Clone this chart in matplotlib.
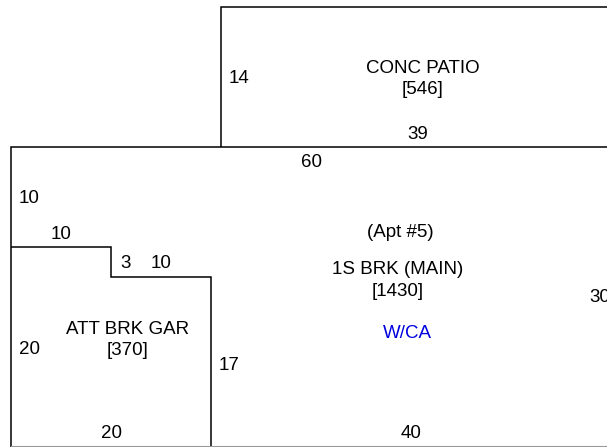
import matplotlib
matplotlib.use("Agg")
import matplotlib.pyplot as plt

# outlines in feet, origin at top left corner of the main building
main_x = [60, 0, 0]
main_y = [0, 0, 30]
base_x = [0, 60]
base_y = [29.9, 29.9]
patio_x = [21, 21, 60]
patio_y = [0, -14, -14]
garage_x = [0, 10, 10, 20, 20]
garage_y = [10, 10, 13, 13, 30]

# dimension labels and area labels
dim_labels = ["14", "39", "60", "10", "10", "3", "10", "20", "20", "17", "30", "40"]
dim_x = [22.8, 40.7, 30.0, 1.8, 5.0, 11.5, 15.0, 1.9, 10.0, 21.8, 58.9, 40.0]
dim_y = [-6.9, -1.3, 1.5, 5.1, 8.7, 11.7, 11.7, 20.3, 28.7, 21.9, 15.0, 28.7]

area_labels = ["CONC PATIO\n[546]", "(Apt #5)", "1S BRK (MAIN)\n[1430]", "ATT BRK GAR\n[370]"]
area_x = [41.2, 38.9, 38.7, 11.65]
area_y = [-6.8, 8.5, 13.35, 19.3]
note_label = "W/CA"
note_x, note_y = 39.6, 18.7


def draw_sketch():
    fig = plt.figure(figsize=(6.07, 4.47), dpi=100)
    ax = fig.add_axes([0, 0, 1, 1])
    for xs, ys in [(main_x, main_y), (patio_x, patio_y), (garage_x, garage_y)]:
        ax.plot(xs, ys, color="black", linewidth=1.1, solid_capstyle="butt",
                solid_joinstyle="miter", clip_on=False)
    ax.plot(base_x, base_y, color="#999999", linewidth=0.8)
    for txt, x, y in zip(dim_labels, dim_x, dim_y):
        ax.text(x, y, txt, ha="center", va="center", fontsize=13.5, clip_on=False)
    for txt, x, y in zip(area_labels, area_x, area_y):
        ax.text(x, y, txt, ha="center", va="center", fontsize=13.5, linespacing=1.35)
    ax.text(note_x, note_y, note_label, ha="center", va="center", fontsize=13.5, color="#0000e0")
    ax.set_xlim(-1.1, 59.6)
    ax.set_ylim(30, -14.7)
    ax.axis("off")
    fig.savefig("out.png", dpi=100, facecolor="white")


plt.rcParams["font.family"] = ["Liberation Sans", "DejaVu Sans"]
draw_sketch()
